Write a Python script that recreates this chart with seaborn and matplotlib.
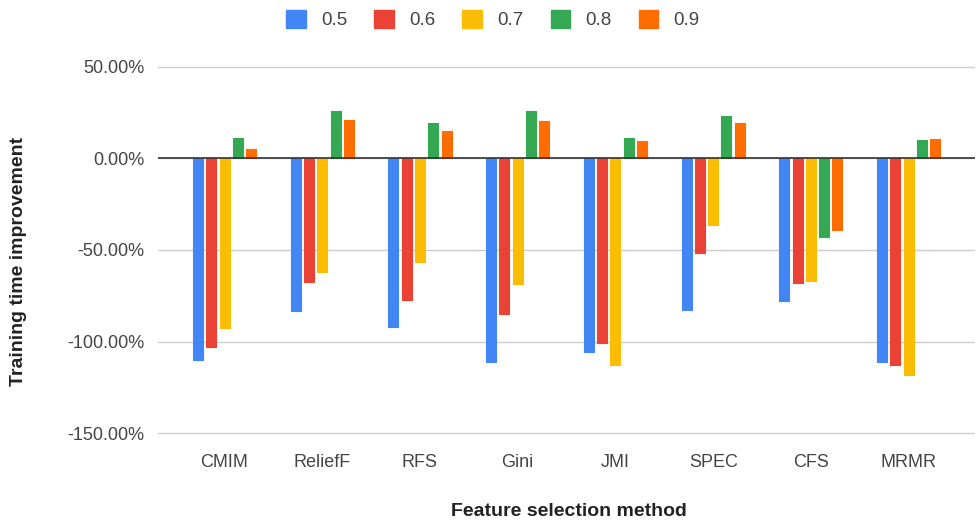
import pandas as pd
import matplotlib.pyplot as plt
import seaborn as sns
from matplotlib.ticker import FuncFormatter
from matplotlib.patches import Patch

# values (percent)
methods = ['CMIM', 'ReliefF', 'RFS', 'Gini', 'JMI', 'SPEC', 'CFS', 'MRMR']
thresholds = ['0.5', '0.6', '0.7', '0.8', '0.9']
v05 = [-110.0, -83.4, -91.9, -110.8, -105.4, -82.5, -78.0, -110.8]
v06 = [-102.7, -67.6, -77.5, -84.7, -100.9, -51.9, -68.1, -112.6]
v07 = [-92.8, -62.2, -56.8, -68.5, -112.6, -36.6, -66.7, -118.0]
v08 = [11.2, 25.6, 19.2, 25.6, 11.2, 22.9, -42.9, 9.9]
v09 = [4.9, 21.1, 14.8, 20.2, 9.4, 19.2, -39.3, 10.3]
colors = ['#4285F4', '#EA4335', '#FBBC04', '#34A853', '#FF6D01']

sns.set_style("white")
plt.rcParams['font.family'] = ['Liberation Sans', 'DejaVu Sans']

def build_frame():
    rows = []
    for t, vals in zip(thresholds, [v05, v06, v07, v08, v09]):
        for m, v in zip(methods, vals):
            rows.append({'method': m, 'threshold': t, 'value': v})
    return pd.DataFrame(rows)

def main():
    data = build_frame()
    fig = plt.figure(figsize=(9.76, 5.22), dpi=100)
    ax = fig.add_axes([0.162, 0.1676, 0.837, 0.707])

    sns.barplot(data=data, x='method', y='value', hue='threshold',
                hue_order=thresholds, palette=colors, width=0.68, gap=0.25,
                ax=ax, legend=False, saturation=1)
    for p in ax.patches:
        p.set_edgecolor(p.get_facecolor())
        p.set_linewidth(0.8)
        p.set_joinstyle('round')

    ax.set_ylim(-150.6, 50.6)
    ax.set_xlim(-0.68, 7.68)
    ax.set_yticks([50, 0, -50, -100, -150])
    ax.yaxis.set_major_formatter(FuncFormatter(lambda v, _: f'{v:.2f}%'))
    ax.grid(axis='y', color='#cccccc', linewidth=1)
    ax.set_axisbelow(True)
    ax.axhline(0, color='#333333', linewidth=1.2, zorder=3)
    for s in ax.spines.values():
        s.set_visible(False)
    ax.tick_params(axis='both', length=0, labelsize=13, colors='#444444')
    ax.tick_params(axis='y', pad=10)
    ax.tick_params(axis='x', pad=14)
    ax.set_xlabel('')
    ax.set_ylabel('')

    fig.text(0.583, 0.021, 'Feature selection method', fontsize=14, fontweight='bold',
             color='#222222', ha='center', va='center')
    fig.text(0.0185, 0.499, 'Training time improvement', fontsize=14, fontweight='bold',
             color='#222222', ha='center', va='center', rotation=90)

    handles = [Patch(facecolor=c, edgecolor=c, label=t) for c, t in zip(colors, thresholds)]
    fig.legend(handles=handles, loc='center', bbox_to_anchor=(0.505, 0.962), ncol=5,
               frameon=False, fontsize=13.5, handlelength=1.05, handleheight=1.05,
               columnspacing=1.45, handletextpad=0.8, labelcolor='#444444')

    fig.savefig('out.png', dpi=100)

if __name__ == "__main__":
    main()
